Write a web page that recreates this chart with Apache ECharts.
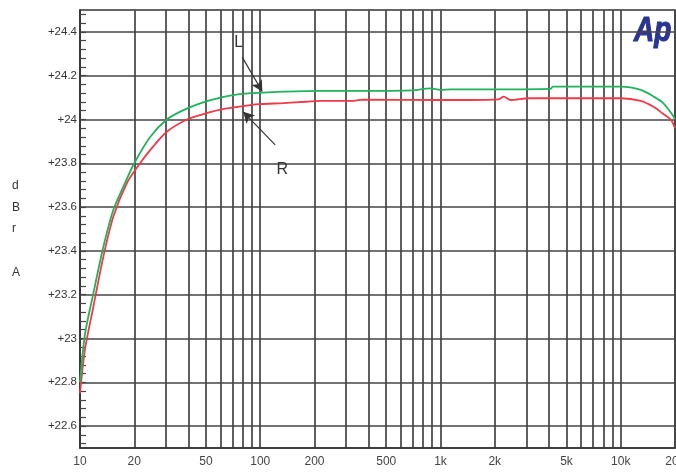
<!DOCTYPE html>
<html>
<head>
<meta charset="utf-8">
<script src="https://cdn.jsdelivr.net/npm/echarts@6/dist/echarts.min.js"></script>
<style>html,body{margin:0;padding:0;background:#fff}#c{width:676px;height:476px}</style>
</head>
<body>
<div id="c"></div>
<script>
// Frequency (Hz) and level (dBr A)
var freqL = [10, 10.66, 11.86, 13.48, 15.3, 17.4, 20, 24.5, 30.3, 37.5, 46.4, 60, 75, 88, 100, 134, 215, 400, 700, 880, 1000, 1140, 2000, 4080, 4200, 6000, 10000, 12900, 15200, 17200, 19600, 20000];
var levelL = [22.80, 23.02, 23.206, 23.419, 23.587, 23.693, 23.80, 23.92, 24.0, 24.043, 24.074, 24.10, 24.115, 24.12, 24.122, 24.127, 24.131, 24.131, 24.133, 24.142, 24.135, 24.138, 24.138, 24.140, 24.150, 24.150, 24.150, 24.135, 24.105, 24.075, 24.015, 24.0];
var freqR = [10, 10.66, 11.86, 13.48, 15.3, 18.2, 21.1, 24.5, 30.3, 39.2, 46.4, 60, 75, 88, 100, 134, 180, 215, 330, 370, 1000, 1470, 2100, 2240, 2450, 3100, 10000, 12900, 15200, 17100, 19000, 20000];
var levelR = [22.75, 22.95, 23.145, 23.374, 23.556, 23.71, 23.79, 23.86, 23.944, 24.0, 24.02, 24.045, 24.058, 24.066, 24.07, 24.075, 24.081, 24.085, 24.085, 24.091, 24.089, 24.089, 24.092, 24.104, 24.089, 24.097, 24.097, 24.085, 24.058, 24.027, 23.998, 23.96];

var xLabelValues = [10, 20, 50, 100, 200, 500, 1000, 2000, 5000, 10000, 20000];
var xLabelTexts = ['10', '20', '50', '100', '200', '500', '1k', '2k', '5k', '10k', '20k'];
var xGridValues = [10,20,30,40,50,60,70,80,90,100,200,300,400,500,600,700,800,900,1000,2000,3000,4000,5000,6000,7000,8000,9000,10000,20000];
var yMajorValues = [22.6, 22.8, 23, 23.2, 23.4, 23.6, 23.8, 24, 24.2, 24.4];
var yLabelTexts = ['+22.6', '+22.8', '+23', '+23.2', '+23.4', '+23.6', '+23.8', '+24', '+24.2', '+24.4'];
var yMinorValues = [];
for (var k = 0; k < 50; k++) { yMinorValues.push(Math.round((22.52 + k * 0.04) * 100) / 100); }

function pairs(xs, ys) { return xs.map(function (x, i) { return [x, ys[i]]; }); }

var chart = echarts.init(document.getElementById('c'), null, { renderer: 'canvas' });
var gridColor = '#444';
chart.setOption({
  animation: false,
  backgroundColor: '#fff',
  grid: { left: 80, right: 1, top: 10, bottom: 28, outerBoundsMode: 'none', containLabel: false, show: true, borderColor: '#333', borderWidth: 1.5, backgroundColor: 'transparent' },
  xAxis: {
    type: 'log', logBase: 10, min: 10, max: 20000,
    axisLine: { show: true, lineStyle: { color: '#333', width: 1.5 } },
    axisTick: { show: false, customValues: xGridValues },
    axisLabel: {
      customValues: xLabelValues, color: '#444', fontSize: 12, fontFamily: 'Liberation Sans, Arial, sans-serif', margin: 8, hideOverlap: false,
      formatter: function (v) { var i = xLabelValues.indexOf(v); return i >= 0 ? xLabelTexts[i] : ''; }
    },
    splitLine: { show: true, lineStyle: { color: gridColor, width: 1.7 } }
  },
  yAxis: [{
    type: 'value', min: 22.5, max: 24.5,
    axisLine: { show: true, lineStyle: { color: '#333', width: 1.5 } },
    axisTick: { show: false, customValues: yMajorValues },
    axisLabel: {
      customValues: yMajorValues, color: '#333', fontSize: 11.5, fontFamily: 'Liberation Sans, Arial, sans-serif', margin: 3,
      formatter: function (v) { var i = yMajorValues.indexOf(Math.round(v * 10) / 10); return i >= 0 ? yLabelTexts[i] : ''; }
    },
    splitLine: { show: true, lineStyle: { color: gridColor, width: 1.7 } }
  }, {
    type: 'value', min: 22.5, max: 24.5, position: 'left',
    axisLine: { show: false },
    axisTick: { show: true, inside: true, length: 6, customValues: yMinorValues, lineStyle: { color: '#444', width: 1.2 } },
    axisLabel: { show: false },
    splitLine: { show: false }
  }],
  series: [{
    name: 'L', type: 'line', showSymbol: false, symbol: 'none', smooth: 0.3,
    data: pairs(freqL, levelL),
    lineStyle: { color: '#21b35a', width: 1.8 },
    markLine: {
      silent: true, symbol: ['none', 'arrow'], symbolSize: [9, 11],
      label: { show: false },
      lineStyle: { color: '#333', width: 1.2, type: 'solid' },
      data: [
        [{ coord: [79.4, 24.285] }, { coord: [102.6, 24.128] }],
        [{ coord: [121, 23.884] }, { coord: [80.5, 24.035] }]
      ]
    },
    markPoint: {
      silent: true, symbol: 'circle', symbolSize: 0,
      label: { show: true, color: '#333', fontSize: 16, fontFamily: 'Liberation Sans, Arial, sans-serif', formatter: function (p) { return p.name; } },
      data: [
        { name: 'L', coord: [76, 24.35] },
        { name: 'R', coord: [132.5, 23.77] }
      ]
    },
    z: 3
  }, {
    name: 'R', type: 'line', showSymbol: false, symbol: 'none', smooth: 0.3,
    data: pairs(freqR, levelR),
    lineStyle: { color: '#f03a48', width: 1.8 },
    z: 2
  }],
  graphic: [{
    type: 'text', x: 634, y: 14, scaleX: 0.8,
    style: { text: 'Ap', fill: '#2a3592', stroke: '#2a3592', lineWidth: 1.2, font: 'italic bold 35px "Liberation Sans", Arial, sans-serif' }
  }, {
    type: 'text', left: 12, top: 175,
    style: { text: 'd\nB\nr\n\nA', fill: '#333', fontSize: 12, lineHeight: 21.6, fontFamily: 'Liberation Sans, Arial, sans-serif' }
  }]
});
</script>
</body>
</html>
